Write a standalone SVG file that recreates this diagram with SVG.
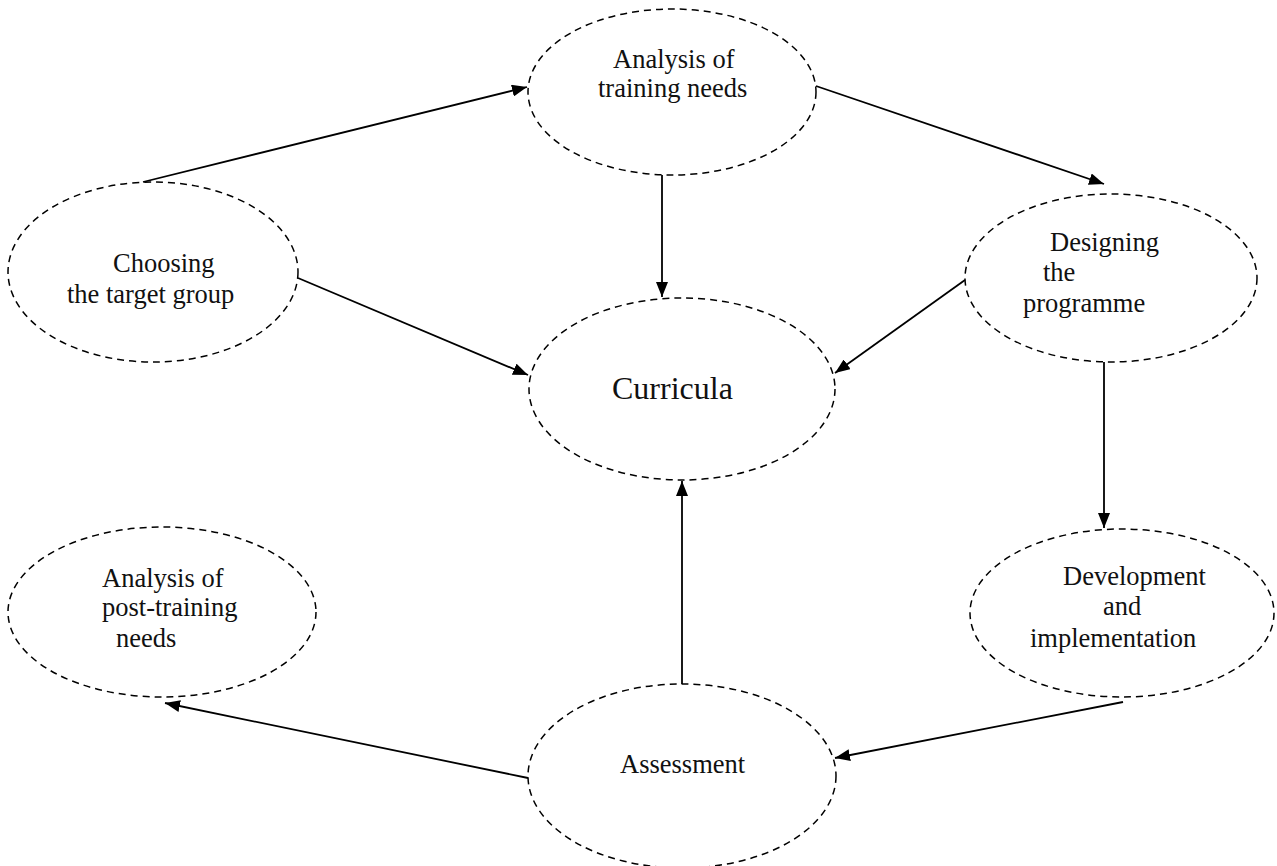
<svg xmlns="http://www.w3.org/2000/svg" width="1277" height="866" viewBox="0 0 1277 866">
<style>
.node ellipse{fill:none;stroke:#000;stroke-width:1.5;stroke-dasharray:7 5}
.node text{font-family:"Liberation Serif","Times New Roman",serif;font-size:26.5px;fill:#111}
.edges line{stroke:#000;stroke-width:1.8;marker-end:url(#arr)}
</style>
<defs>
<marker id="arr" markerUnits="userSpaceOnUse" markerWidth="16" markerHeight="12" refX="15" refY="6" orient="auto">
<path d="M0,0 L15,6 L0,12 z" fill="#000"/>
</marker>
</defs>
<rect width="1277" height="866" fill="#fff"/>
<g id="n-analysis-training" class="node">
<ellipse cx="672" cy="92" rx="144" ry="83"/>
<text x="613" y="68">Analysis of</text>
<text x="598" y="97">training needs</text>
</g>
<g id="n-choosing" class="node">
<ellipse cx="153" cy="272" rx="145" ry="90"/>
<text x="113" y="272">Choosing</text>
<text x="67" y="303">the target group</text>
</g>
<g id="n-designing" class="node">
<ellipse cx="1111" cy="278" rx="146" ry="84"/>
<text x="1050" y="251">Designing</text>
<text x="1043" y="281">the</text>
<text x="1023" y="312">programme</text>
</g>
<g id="n-curricula" class="node">
<ellipse cx="682" cy="389" rx="153" ry="91"/>
<text x="612" y="399" style="font-size:32px">Curricula</text>
</g>
<g id="n-post-training" class="node">
<ellipse cx="162" cy="612" rx="154" ry="85"/>
<text x="102" y="587">Analysis of</text>
<text x="102" y="616">post-training</text>
<text x="116" y="647">needs</text>
</g>
<g id="n-development" class="node">
<ellipse cx="1122" cy="613" rx="152" ry="84"/>
<text x="1063" y="585">Development</text>
<text x="1103" y="615">and</text>
<text x="1030" y="647">implementation</text>
</g>
<g id="n-assessment" class="node">
<ellipse cx="682" cy="776" rx="154" ry="92"/>
<text x="620" y="773">Assessment</text>
</g>
<g id="edges" class="edges">
<line x1="143" y1="182" x2="527" y2="87"/>
<line x1="816" y1="86" x2="1104" y2="184"/>
<line x1="662" y1="175" x2="662" y2="297"/>
<line x1="298" y1="278" x2="528" y2="375"/>
<line x1="965" y1="280" x2="835" y2="373"/>
<line x1="1104" y1="362" x2="1104" y2="528"/>
<line x1="1123" y1="702" x2="835" y2="758"/>
<line x1="682" y1="684" x2="682" y2="481"/>
<line x1="528" y1="778" x2="165" y2="703"/>
</g>
</svg>
